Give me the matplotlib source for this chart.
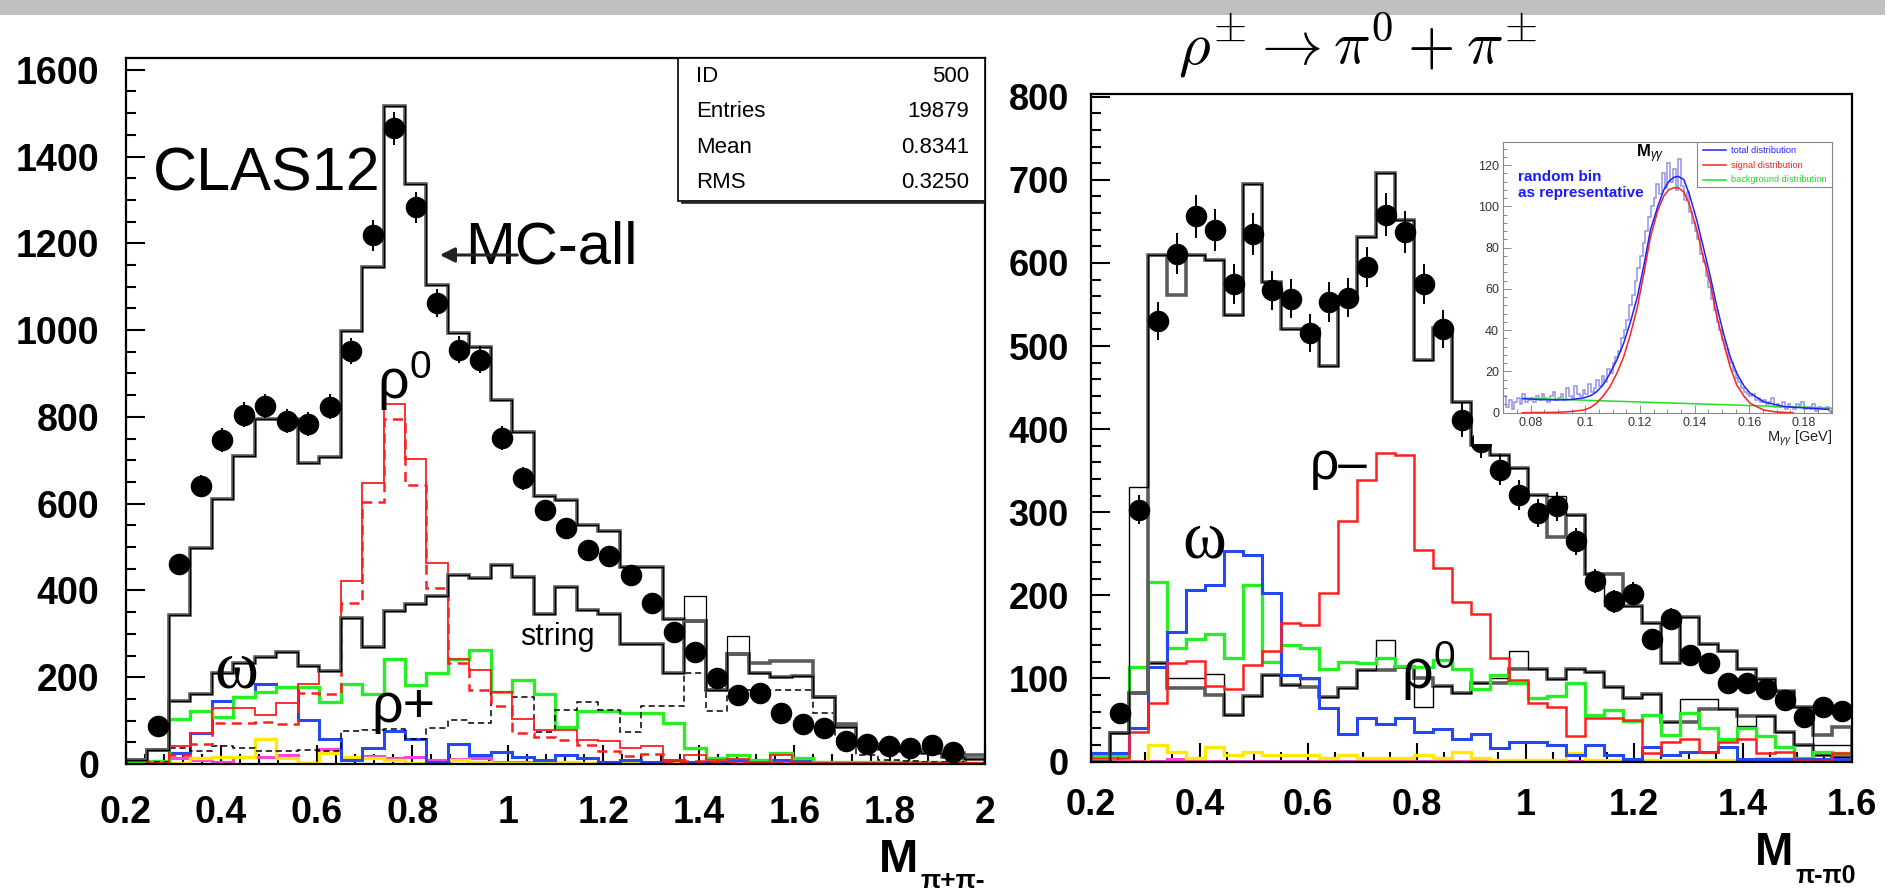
import numpy as np
import matplotlib
matplotlib.use("Agg")
import matplotlib.pyplot as plt
from matplotlib.patches import Rectangle
from matplotlib.ticker import MultipleLocator

plt.rcParams['font.family'] = ['Liberation Sans', 'DejaVu Sans']
plt.rcParams['mathtext.fontset'] = 'custom'
plt.rcParams['mathtext.rm'] = 'Liberation Sans'
plt.rcParams['mathtext.it'] = 'Liberation Sans:italic'
plt.rcParams['mathtext.bf'] = 'Liberation Sans:bold'

nan = np.nan

# ---------------- left panel: M(pi+ pi-), 40 bins 0.2 - 2.0
data_left = [nan, 87, 460, 640, 746, 805, 825, 790, 784, 823,
             952, 1218, 1465, 1283, 1062, 955, 932, 752, 658, 585,
             544, 493, 480, 436, 370, 305, 259, 198, 160, 164,
             118, 93, 82, 54, 47, 42, 37, 44, 28, nan]
mc_gray_left = [10, 32, 343, 497, 610, 710, 796, 796, 694, 708,
                998, 1146, 1517, 1336, 1104, 994, 960, 840, 766, 617,
                608, 551, 537, 455, 455, 334, 329, 170, 253, 233,
                238, 238, 155, 92, 45, 38, 32, 28, 25, 20]
mc_black_left = [10, 32, 343, 497, 610, 710, 796, 796, 694, 708,
                 998, 1146, 1517, 1336, 1104, 994, 960, 840, 766, 617,
                 608, 551, 537, 455, 455, 334, 387, 170, 296, 209,
                 201, 202, 155, 86, 42, 35, 30, 26, 15, 12]
string_left = [10, 32, 146, 161, 210, 233, 246, 257, 226, 214,
               336, 270, 353, 369, 387, 435, 428, 458, 430, 346,
               408, 356, 345, 276, 276, 210, 329, 170, 253, 209,
               201, 202, 155, 86, 42, 35, 30, 26, 15, 12]
rho0_left = [0, 3, 41, 71, 128, 128, 114, 140, 184, 214,
             422, 647, 829, 704, 464, 243, 216, 166, 103, 78,
             78, 56, 53, 38, 41, 9, 21, 9, 11, 5,
             21, 3, 3, 2, 2, 2, 2, 2, 2, 2]
rho0_dash_left = [0, 2, 21, 46, 95, 95, 97, 93, 163, 161,
                  372, 604, 795, 643, 405, 233, 170, 134, 71, 62,
                  55, 44, 31, 18, 22, 5, 8, 5, 5, 3,
                  5, 2, 2, 1, 1, 1, 1, 1, 1, 1]
omega_left = [2, 5, 25, 71, 146, 155, 184, 178, 101, 57,
              9, 36, 77, 57, 5, 46, 21, 27, 17, 9,
              21, 13, 5, 9, 5, 9, 5, 4, 9, 6,
              9, 9, 3, 2, 2, 2, 2, 1, 1, 1]
green_left = [5, 8, 103, 123, 109, 155, 166, 178, 178, 144,
              184, 161, 241, 182, 209, 243, 262, 166, 193, 161,
              85, 123, 123, 118, 118, 94, 36, 13, 21, 9,
              26, 13, 5, 5, 5, 5, 5, 5, 5, 3]
rhop_left = [0, 5, 36, 31, 41, 36, 30, 31, 32, 31,
             76, 78, 80, 57, 82, 101, 94, 166, 155, 74,
             124, 143, 124, 74, 134, 134, 210, 123, 170, 170,
             170, 170, 118, 60, 20, 10, 8, 5, 5, 3]
yellow_left = [3, 5, 3, 13, 17, 17, 58, 13, 3, 25,
               15, 13, 9, 3, 3, 9, 5, 3, 3, 2,
               5, 3, 2, 3, 2, 2, 2, 2, 1, 1,
               1, 1, 1, 1, 1, 1, 1, 1, 1, 1]
magenta_left = [2, 5, 13, 9, 5, 17, 17, 21, 3, 34,
                13, 18, 13, 15, 9, 11, 13, 5, 5, 8,
                5, 3, 5, 3, 3, 5, 3, 3, 5, 3,
                2, 2, 1, 1, 1, 1, 1, 1, 1, 1]
stats_names = ['ID', 'Entries', 'Mean', 'RMS']
stats_values = ['500', '19879', '0.8341', '0.3250']

# ---------------- right panel: M(pi- pi0), 40 bins 0.2 - 1.6
data_right = [nan, 58, 303, 530, 611, 656, 640, 575, 635, 567,
              557, 516, 553, 558, 595, 658, 637, 575, 521, 411,
              385, 351, 321, 299, 307, 265, 217, 193, 202, 147,
              172, 128, 118, 94, 94, 87, 74, 54, 66, 61]
mc_gray_right = [0, 34, 82, 610, 561, 610, 604, 537, 695, 577,
                 521, 521, 476, 559, 631, 708, 652, 483, 522, 433,
                 381, 369, 353, 321, 270, 297, 226, 226, 187, 167,
                 119, 174, 141, 133, 111, 99, 85, 66, 32, 42]
mc_black_right = [0, 34, 330, 610, 610, 610, 604, 537, 695, 577,
                  521, 521, 476, 559, 631, 708, 652, 483, 522, 433,
                  381, 369, 353, 321, 320, 297, 226, 187, 187, 167,
                  119, 174, 141, 133, 111, 99, 85, 66, 20, 20]
rhom_right = [4, 4, 35, 70, 119, 121, 91, 87, 116, 133,
              167, 164, 203, 290, 339, 371, 369, 255, 233, 192,
              177, 124, 98, 70, 66, 31, 52, 52, 50, 10,
              23, 27, 12, 23, 27, 10, 12, 1, 1, 10]
omega_right = [10, 10, 40, 114, 156, 206, 212, 253, 248, 203,
               104, 100, 64, 33, 52, 45, 52, 36, 39, 27,
               33, 16, 24, 24, 20, 8, 20, 8, 3, 18,
               8, 11, 11, 18, 3, 3, 3, 3, 3, 3]
green_right = [8, 8, 114, 216, 136, 147, 153, 124, 212, 120,
               140, 137, 111, 120, 119, 124, 115, 114, 122, 111,
               87, 104, 95, 76, 79, 95, 56, 62, 49, 56,
               32, 58, 40, 27, 40, 31, 18, 4, 12, 10]
rho0_black_right = [0, 34, 82, 119, 101, 101, 105, 56, 79, 104,
                    92, 99, 78, 88, 110, 146, 114, 66, 91, 82,
                    94, 100, 133, 111, 99, 111, 108, 90, 76, 81,
                    48, 75, 75, 63, 43, 55, 36, 20, 8, 5]
rho0_gray_right = [0, 34, 82, 119, 88, 88, 80, 56, 79, 104,
                   92, 90, 78, 88, 110, 110, 114, 100, 91, 82,
                   94, 94, 111, 111, 99, 111, 108, 90, 76, 81,
                   48, 48, 63, 63, 55, 55, 36, 20, 8, 5]
yellow_right = [0, 0, 0, 20, 11, 4, 17, 8, 11, 8,
                8, 8, 4, 8, 4, 4, 4, 8, 4, 11,
                4, 2, 2, 2, 2, 10, 2, 2, 2, 2,
                2, 2, 2, 2, 2, 4, 4, 2, 2, 2]
magenta_right = [1, 1, 1, 1, 3, 1, 1, 1, 1, 1,
                 1, 1, 1, 1, 1, 1, 1, 1, 1, 1,
                 1, 1, 1, 1, 1, 1, 1, 1, 1, 1,
                 1, 1, 1, 1, 1, 1, 1, 1, 1, 1]

# ---------------- inset: M(gamma gamma), 120 bins 0.07 - 0.19
mgg_counts = [8, 3, 6, 2, 5, 7, 4, 9, 5, 6,
              7, 5, 8, 6, 9, 7, 5, 8, 10, 6,
              7, 9, 6, 12, 8, 7, 13, 9, 8, 11,
              9, 14, 10, 12, 16, 13, 18, 15, 21, 19,
              24, 27, 30, 36, 40, 45, 52, 57, 64, 70,
              76, 82, 88, 95, 100, 104, 111, 106, 116, 109,
              121, 112, 118, 108, 123, 110, 103, 107, 97, 92,
              88, 84, 77, 73, 66, 61, 55, 50, 44, 40,
              35, 31, 27, 24, 20, 17, 15, 12, 10, 9,
              8, 9, 6, 7, 5, 6, 4, 5, 7, 3,
              4, 3, 5, 2, 4, 3, 2, 4, 3, 5,
              2, 3, 2, 4, 1, 3, 2, 2, 3, 1]
total_x = [0.077, 0.080, 0.085, 0.090, 0.095, 0.0995, 0.102, 0.104, 0.1065, 0.109,
           0.1115, 0.114, 0.1165, 0.119, 0.1215, 0.1238, 0.1265, 0.1287, 0.1305, 0.1323,
           0.134, 0.136, 0.138, 0.1408, 0.143, 0.1457, 0.148, 0.1506, 0.153, 0.1554,
           0.158, 0.1603, 0.1652, 0.1724, 0.180, 0.189]
total_y = [6.8, 6.6, 6.3, 6.2, 6.4, 7.2, 8.3, 10, 13.5, 19,
           25.5, 33.6, 44, 56, 72, 88.5, 100, 108, 112, 114,
           114.5, 113, 106, 93, 81, 66, 52, 38, 27, 19,
           13, 9.4, 5.3, 3.0, 2.3, 1.6]
signal_x = [0.077, 0.090, 0.095, 0.0995, 0.102, 0.104, 0.1065, 0.109, 0.1115, 0.114,
            0.1165, 0.119, 0.1215, 0.1238, 0.1265, 0.1287, 0.1305, 0.1323, 0.134, 0.136,
            0.138, 0.1408, 0.143, 0.1457, 0.148, 0.1506, 0.153, 0.1554, 0.158, 0.1603,
            0.1652, 0.170, 0.176]
signal_y = [0, 0.2, 0.6, 1.3, 2.6, 4.5, 8, 12.6, 19, 27,
            38, 51, 68, 85, 98, 105, 108, 109, 109, 107,
            101, 88.5, 76, 62.7, 47, 33.6, 22, 13.4, 8, 4.5,
            1.3, 0.3, 0]
bg_x = [0.0775, 0.19]
bg_y = [7.0, 2.2]
legend_labels = ['total distribution', 'signal distribution', 'background distribution']

# ---------------- colours
GRAY = '#5c5c5c'
RED = '#ff1f1f'
GREEN = '#27ee27'
BLUE = '#2648f0'
YELLOW = '#ffea00'
MAGENTA = '#ff3fe0'
DASH = (0, (4, 2.5))

W, H = 1892, 891
fig = plt.figure(figsize=(W / 100, H / 100), dpi=100)


def box(x0, y0, x1, y1):
    return [x0 / W, 1 - y1 / H, (x1 - x0) / W, (y1 - y0) / H]


def hist(ax, vals, edges, color, lw, ls='-', z=2):
    ax.stairs(vals, edges, baseline=0, color=color, lw=lw, ls=ls, zorder=z)


def style_axes(ax, xmaj, xmin, ymaj, ymin, xpad, ypad, lsize):
    for s in ax.spines.values():
        s.set_linewidth(1.6)
    ax.xaxis.set_minor_locator(MultipleLocator(xmin))
    ax.yaxis.set_minor_locator(MultipleLocator(ymin))
    ax.tick_params(which='both', direction='in', top=False, right=False, width=1.5)
    ax.tick_params(which='major', length=14, labelsize=lsize)
    ax.tick_params(which='minor', length=7)
    ax.tick_params(axis='x', pad=xpad)
    ax.tick_params(axis='y', pad=ypad)
    ax.set_xticks(xmaj, ['%g' % round(v, 2) for v in xmaj], fontweight='bold')
    ax.set_yticks(ymaj, ['%g' % v for v in ymaj], fontweight='bold')


# grey strip at the top
fig.add_artist(Rectangle((0, 1 - 15 / H), 1885 / W, 15 / H, transform=fig.transFigure,
                         facecolor='#c0c0c0', edgecolor='none'))

# ======================= LEFT =======================
ax1 = fig.add_axes(box(125.6, 58, 985.3, 764))
edges_l = np.linspace(0.2, 2.0, 41)
cent_l = 0.5 * (edges_l[1:] + edges_l[:-1])
ax1.set_xlim(0.2, 2.0)
ax1.set_ylim(0, 1627)

hist(ax1, magenta_left, edges_l, MAGENTA, 2.2)
hist(ax1, yellow_left, edges_l, YELLOW, 2.4)
hist(ax1, omega_left, edges_l, BLUE, 2.2)
hist(ax1, green_left, edges_l, GREEN, 2.4)
hist(ax1, rhop_left, edges_l, 'black', 1.1, DASH)
hist(ax1, rho0_dash_left, edges_l, RED, 1.8, DASH)
hist(ax1, rho0_left, edges_l, RED, 1.3)
hist(ax1, string_left, edges_l, GRAY, 2.6)
hist(ax1, string_left, edges_l, 'black', 0.9)
hist(ax1, mc_gray_left, edges_l, GRAY, 2.6)
hist(ax1, mc_black_left, edges_l, 'black', 0.9)

dl = np.array(data_left, dtype=float)
ax1.errorbar(cent_l, dl, yerr=np.sqrt(dl), fmt='o', color='black', ms=14.5,
             elinewidth=1.4, capsize=0, zorder=5)

style_axes(ax1, np.arange(0.2, 2.01, 0.2), 0.04, np.arange(0, 1601, 200), 50,
           22, 19, 27)

# stats box
sb_x0 = (678 - 125.6) / 859.7
sb_y0 = (764 - 200.7) / 706
ax1.add_patch(Rectangle((sb_x0, sb_y0), 1 - sb_x0, 1 - sb_y0, transform=ax1.transAxes,
                        facecolor='white', edgecolor='black', lw=1.2, zorder=6))
ax1.plot([sb_x0 + 0.003, 1.0], [sb_y0 - 0.002, sb_y0 - 0.002], transform=ax1.transAxes,
         color='#222222', lw=2.6, zorder=6, clip_on=False, solid_capstyle='butt')
for i, (nm, vv) in enumerate(zip(stats_names, stats_values)):
    yy = 1 - (18.7 + 35.2 * i) / 706
    ax1.text(0.6635, yy, nm, transform=ax1.transAxes, ha='left', va='center',
             fontsize=16, zorder=7)
    ax1.text(0.9808, yy, vv, transform=ax1.transAxes, ha='right', va='center',
             fontsize=16, zorder=7)

ax1.text(0.2576, 1322, 'CLAS12', fontsize=44, ha='left', va='baseline', zorder=7)
ax1.text(0.9107, 1154, 'MC-all', fontsize=43, ha='left', va='baseline', zorder=7)
ax1.annotate('', xy=(0.858, 1173), xytext=(1.02, 1173),
             arrowprops=dict(arrowstyle='-|>', color='#222222', lw=2.2,
                             mutation_scale=22, shrinkA=0, shrinkB=0), zorder=8)
ax1.text(0.726, 841, r'$\mathrm{ρ}^{0}$', fontsize=40, ha='left', va='baseline', zorder=7)
ax1.text(0.385, 177, 'ω', fontsize=48, family='Liberation Serif', ha='left',
         va='baseline', zorder=7)
ax1.text(0.715, 97, 'ρ+', fontsize=40, ha='left', va='baseline', zorder=7)
ax1.text(1.026, 274, 'string', fontsize=22, ha='left', va='baseline', zorder=7)

fig.text(918 / W, 1 - 872 / H, 'M', fontsize=34, fontweight='bold', ha='right', va='baseline')
fig.text(920 / W, 1 - 888 / H, 'π+π-', fontsize=19, fontweight='bold', ha='left', va='baseline')

# ======================= RIGHT =======================
ax2 = fig.add_axes(box(1091, 94.3, 1851.5, 761.5))
edges_r = np.linspace(0.2, 1.6, 41)
cent_r = 0.5 * (edges_r[1:] + edges_r[:-1])
ax2.set_xlim(0.2, 1.6)
ax2.set_ylim(0, 803)

hist(ax2, magenta_right, edges_r, MAGENTA, 2.2)
hist(ax2, yellow_right, edges_r, YELLOW, 2.4)
hist(ax2, rho0_gray_right, edges_r, GRAY, 2.6)
hist(ax2, rho0_black_right, edges_r, 'black', 1.0)
hist(ax2, green_right, edges_r, GREEN, 2.4)
hist(ax2, omega_right, edges_r, BLUE, 2.2)
hist(ax2, rhom_right, edges_r, RED, 1.8)
hist(ax2, mc_gray_right, edges_r, GRAY, 2.6)
hist(ax2, mc_black_right, edges_r, 'black', 1.0)

dr = np.array(data_right, dtype=float)
ax2.errorbar(cent_r, dr, yerr=np.sqrt(dr), fmt='o', color='black', ms=14.5,
             elinewidth=1.4, capsize=0, zorder=5)

style_axes(ax2, np.arange(0.2, 1.61, 0.2), 0.05, np.arange(0, 801, 100), 20,
           19, 16, 26)

ax2.text(0.6028, 340, 'ρ–', fontsize=37, ha='left', va='baseline', zorder=7)
ax2.text(0.369, 246, 'ω', fontsize=48, family='Liberation Serif', ha='left',
         va='baseline', zorder=7)
ax2.text(0.771, 87, r'$\mathrm{ρ}^{0}$', fontsize=40, ha='left', va='baseline', zorder=7)

fig.text(1793.5 / W, 1 - 865 / H, 'M', fontsize=33, fontweight='bold', ha='right', va='baseline')
fig.text(1795 / W, 1 - 883 / H, 'π-π0', fontsize=18, fontweight='bold', ha='left', va='baseline')

fig.text(1358 / W, 1 - 64 / H, r'$\rho^{\pm} \rightarrow \pi^{0} + \pi^{\pm}$',
         fontsize=44, ha='center', va='baseline', math_fontfamily='cm')

# ======================= INSET =======================
fig.add_artist(Rectangle((1474 / W, 1 - 444 / H), (1845 - 1474) / W, (444 - 100) / H,
                         transform=fig.transFigure, facecolor='white', edgecolor='none',
                         zorder=2))
axi = fig.add_axes(box(1503.3, 141.7, 1832, 412.7), zorder=3)
edges_i = np.linspace(0.07, 0.19, 121)
axi.set_xlim(0.07, 0.1902)
axi.set_ylim(0, 131.3)
axi.stairs(mgg_counts, edges_i, baseline=0, color='#8080e0', lw=1.1, alpha=0.85)
axi.plot(bg_x, bg_y, color='#22e022', lw=1.1)
axi.plot(signal_x, signal_y, color='#ff2020', lw=1.1)
axi.plot(total_x, total_y, color='#2020ff', lw=1.1)
for s in axi.spines.values():
    s.set_color('#888888')
    s.set_linewidth(0.8)
axi.xaxis.set_major_locator(MultipleLocator(0.02))
axi.xaxis.set_minor_locator(MultipleLocator(0.005))
axi.yaxis.set_major_locator(MultipleLocator(20))
axi.yaxis.set_minor_locator(MultipleLocator(4))
axi.xaxis.set_major_formatter(plt.FuncFormatter(lambda v, p: '%g' % round(v, 3)))
axi.tick_params(which='both', direction='in', top=False, right=False, color='#777777',
                width=0.6, labelsize=9, labelcolor='#333333', pad=3)
axi.tick_params(which='major', length=6)
axi.tick_params(which='minor', length=3)

# legend box drawn in axes fraction
axi.add_patch(Rectangle((0.589, 0.834), 0.411, 0.166, transform=axi.transAxes,
                        facecolor='white', edgecolor='#888888', lw=0.8, zorder=4))
for yy, lab, col in zip([0.969, 0.914, 0.859], legend_labels,
                        ['#2020ff', '#ff2020', '#22e022']):
    axi.plot([0.608, 0.678], [yy, yy], transform=axi.transAxes, color=col, lw=1.1, zorder=5)
    axi.text(0.692, yy, lab, transform=axi.transAxes, color=col, fontsize=6.6,
             ha='left', va='center', zorder=5)
axi.text(0.0447, 0.870, 'random bin', transform=axi.transAxes, color='#1a1aff',
         fontsize=11, fontweight='bold', ha='left', va='center')
axi.text(0.0447, 0.810, 'as representative', transform=axi.transAxes, color='#1a1aff',
         fontsize=11, fontweight='bold', ha='left', va='center')
axi.text(0.446, 0.955, r'$\mathbf{M}_{γγ}$', transform=axi.transAxes, fontsize=12,
         ha='center', va='center')
fig.text(1832 / W, 1 - 442 / H, r'M$_{γγ}$ [GeV]', fontsize=10.5, ha='right',
         va='baseline', color='#222222', zorder=4)

fig.savefig('out.png', dpi=100)
